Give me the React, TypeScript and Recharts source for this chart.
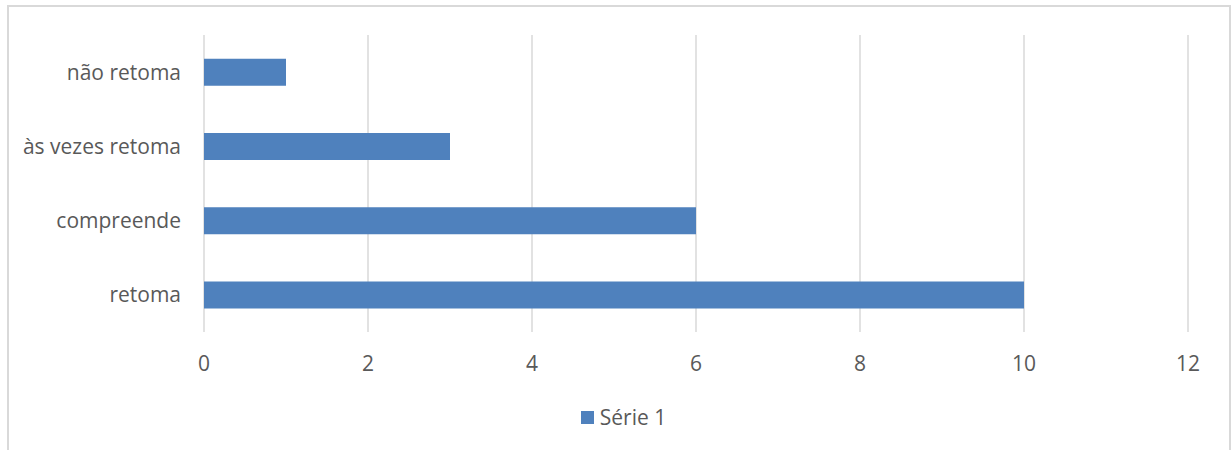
import React from "react";
import { BarChart, Bar, XAxis, YAxis, CartesianGrid, Legend } from "recharts";

const categories = ["não retoma", "às vezes retoma", "compreende", "retoma"];
const serie1 = [1, 3, 6, 10];
const xTicks = [0, 2, 4, 6, 8, 10, 12];
const seriesName = "Série 1";

const data = categories.map((c, i) => ({ name: c, v: serie1[i] }));

const FONT = "'Open Sans', sans-serif";
const TEXT = "#595959";
const BLUE = "#4F81BD";

function renderLegend(props: any) {
  const items = props.payload || [];
  return (
    <div style={{ width: 1231, display: "flex", justifyContent: "center", paddingLeft: 16, boxSizing: "border-box", height: 28, alignItems: "center" }}>
      {items.map((it: any) => (
        <div key={it.value} style={{ display: "flex", alignItems: "center" }}>
          <span style={{ display: "inline-block", width: 13, height: 13, background: BLUE, marginRight: 6 }} />
          <span style={{ color: TEXT, fontSize: 21, fontFamily: FONT, lineHeight: "28px" }}>{it.value}</span>
        </div>
      ))}
    </div>
  );
}

export default function App() {
  return (
    <div style={{ position: "absolute", left: 0, top: 0, width: 1231, height: 450, overflow: "hidden", background: "#fff" }}>
      <div
        style={{
          position: "absolute",
          left: 7,
          top: 5,
          width: 1220,
          height: 460,
          border: "2px solid #d9d9d9",
        }}
      />
      <div style={{ position: "absolute", left: 0, top: 0 }}>
        <BarChart
          width={1231}
          height={450}
          data={data}
          layout="vertical"
          margin={{ top: 35, right: 43, bottom: 19, left: 0 }}
          barCategoryGap="32%"
        >
          <CartesianGrid horizontal={false} stroke="#d9d9d9" strokeWidth={1.5} />
          <XAxis
            type="number"
            domain={[0, 12]}
            ticks={xTicks}
            interval={0}
            axisLine={false}
            tickLine={false}
            tickMargin={18}
            height={71}
            tick={{ fill: TEXT, fontSize: 21, fontFamily: FONT }}
          />
          <YAxis
            type="category"
            dataKey="name"
            width={204}
            axisLine={false}
            tickLine={false}
            tickMargin={17}
            tick={{ fill: TEXT, fontSize: 21, fontFamily: FONT }}
          />
          <Legend verticalAlign="bottom" align="center" content={renderLegend} />
          <Bar dataKey="v" name={seriesName} fill={BLUE} isAnimationActive={false} />
        </BarChart>
      </div>
    </div>
  );
}
